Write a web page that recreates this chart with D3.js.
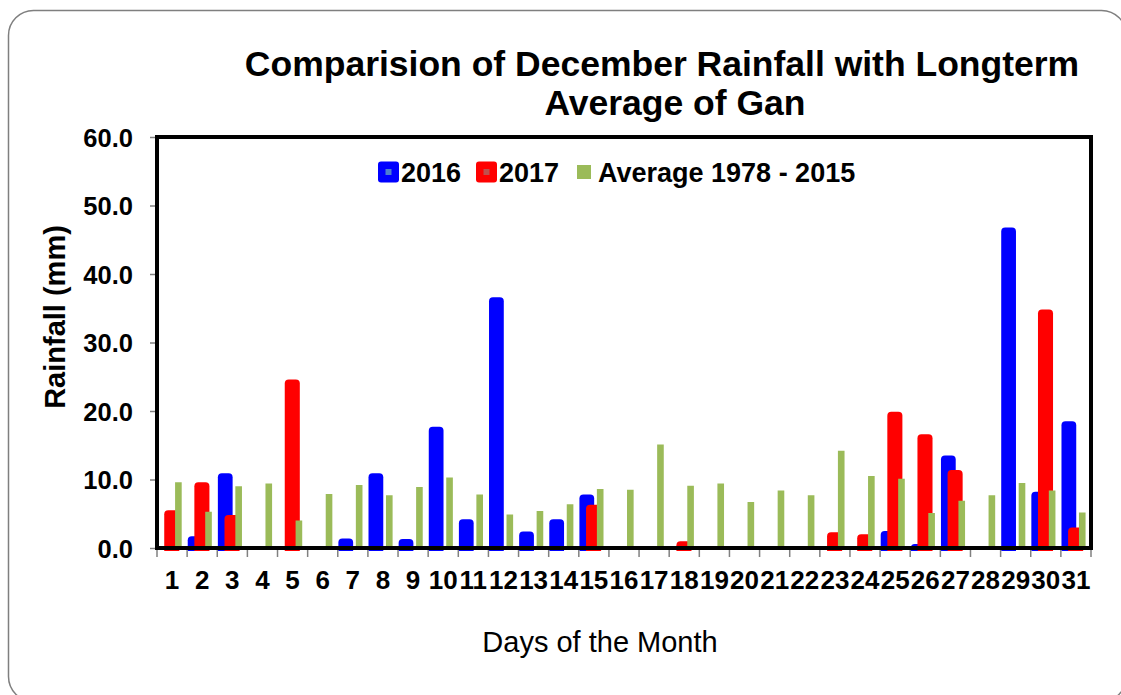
<!DOCTYPE html>
<html lang="en">
<head>
<meta charset="utf-8">
<title>December Rainfall Gan</title>
<script src="https://d3js.org/d3.v7.min.js"></script>
<style type="text/css">
body { margin: 0; background: #fff; }
svg  { display: block; font-family: "Liberation Sans", Arial, sans-serif; }
</style>
</head>
<body>
<script type="text/javascript">

// days of the month (categories)
var days = ["1","2","3","4","5","6","7","8","9","10","11","12","13","14","15","16",
            "17","18","19","20","21","22","23","24","25","26","27","28","29","30","31"];

// daily rainfall (mm)
var rain2016 = [0, 1.7, 10.9, 0, 0, 0, 1.4, 10.9, 1.3, 17.7, 4.2, 36.6, 2.4, 4.2, 7.8, 0,
                0, 0, 0, 0, 0, 0, 0, 0, 2.5, 0.6, 13.5, 0, 46.8, 8.2, 18.5];
var rain2017 = [5.5, 9.6, 4.8, 0, 24.6, 0, 0, 0, 0, 0, 0, 0, 0, 0, 6.3, 0,
                0, 1.0, 0, 0, 0, 0, 2.3, 2.0, 19.9, 16.6, 11.4, 0, 0, 34.8, 3.0];
var rainAvg  = [9.6, 5.3, 9.0, 9.4, 4.0, 7.9, 9.2, 7.7, 8.9, 10.3, 7.8, 4.9, 5.4, 6.4, 8.6, 8.5,
                15.1, 9.1, 9.4, 6.7, 8.4, 7.7, 14.2, 10.5, 10.1, 5.1, 6.9, 7.7, 9.5, 8.4, 5.2];

var yTicks = [0, 10, 20, 30, 40, 50, 60];
var seriesNames = ["2016", "2017", "Average 1978 - 2015"];

var W = 1121, H = 695;
var plotL = 157, plotR = 1091, plotT = 137, plotB = 548;

var svg = d3.select("body").append("svg")
    .attr("width", W)
    .attr("height", H);

// outer chart border
svg.append("rect")
    .attr("x", 8.5).attr("y", 10.5)
    .attr("width", 1118).attr("height", 691)
    .attr("rx", 25)
    .attr("fill", "none")
    .attr("stroke", "#7f7f7f")
    .attr("stroke-width", 1.5);

var x = d3.scaleBand().domain(days).range([plotL, plotR]).padding(0);
var y = d3.scaleLinear().domain([0, 60]).range([plotB, plotT]);
var sub = d3.scaleLinear().domain([0, 1]).range([0, x.bandwidth()]);

// where each series sits inside a day (fractions of the band)
var series = [
  { name: seriesNames[0], values: rain2016, color: "#0000ff", off: 0.02, w: 0.49, round: true },
  { name: seriesNames[1], values: rain2017, color: "#ff0000", off: 0.24, w: 0.50, round: true },
  { name: seriesNames[2], values: rainAvg,  color: "#9bbb59", off: 0.60, w: 0.22, round: false }
];

function barPath(x0, y0, w, yb, r) {
  var h = yb - y0;
  r = Math.min(r, w / 2, h);
  return "M" + x0 + "," + yb +
         "V" + (y0 + r) +
         "Q" + x0 + "," + y0 + " " + (x0 + r) + "," + y0 +
         "H" + (x0 + w - r) +
         "Q" + (x0 + w) + "," + y0 + " " + (x0 + w) + "," + (y0 + r) +
         "V" + yb + "Z";
}

series.forEach(function(s) {
  svg.append("g").selectAll("path")
    .data(s.values.map(function(v, i) { return { day: days[i], v: v }; })
                  .filter(function(d) { return d.v > 0; }))
    .enter()
    .append("path")
    .attr("fill", s.color)
    .attr("d", function(d) {
      var x0 = x(d.day) + sub(s.off);
      var yb = s.round ? y(0) + 3 : y(0);
      return barPath(x0, y(d.v), sub(s.w), yb, s.round ? 4 : 0);
    });
});

// y axis ticks and labels
svg.append("g")
    .attr("transform", "translate(" + plotL + ",0)")
    .call(d3.axisLeft(y).tickValues(yTicks).tickSize(7).tickFormat(d3.format(".1f")))
    .call(function(g) {
      g.select(".domain").remove();
      g.selectAll(".tick line").attr("stroke", "#808080").attr("stroke-width", 1.5);
      g.selectAll(".tick text")
        .attr("x", -24)
        .attr("dy", "0.36em")
        .attr("fill", "#000")
        .style("font-family", "'Liberation Sans', Arial, sans-serif")
        .style("font-size", "25.5px")
        .style("font-weight", "bold");
    });

// x axis ticks at day boundaries
svg.append("g").selectAll("line")
    .data(d3.range(days.length + 1))
    .enter()
    .append("line")
    .attr("x1", function(i) { return plotL + i * x.step(); })
    .attr("x2", function(i) { return plotL + i * x.step(); })
    .attr("y1", plotB + 2)
    .attr("y2", plotB + 9)
    .attr("stroke", "#808080")
    .attr("stroke-width", 1.5);

svg.append("g").selectAll("text")
    .data(days)
    .enter()
    .append("text")
    .attr("x", function(d) { return x(d) + x.bandwidth() / 2; })
    .attr("y", 589)
    .attr("text-anchor", "middle")
    .style("font-size", "26px")
    .style("font-weight", "bold")
    .text(function(d) { return d; });

// plot frame
svg.append("rect")
    .attr("x", plotL).attr("y", plotT)
    .attr("width", plotR - plotL).attr("height", plotB - plotT)
    .attr("fill", "none")
    .attr("stroke", "#000")
    .attr("stroke-width", 4);

// title
svg.append("text")
    .attr("x", 662).attr("y", 76)
    .attr("text-anchor", "middle")
    .style("font-size", "35.5px").style("font-weight", "bold")
    .text("Comparision of December Rainfall with Longterm");
svg.append("text")
    .attr("x", 675).attr("y", 115)
    .attr("text-anchor", "middle")
    .style("font-size", "35.5px").style("font-weight", "bold")
    .text("Average of Gan");

// axis titles
svg.append("text")
    .attr("transform", "translate(65,317) rotate(-90)")
    .attr("text-anchor", "middle")
    .style("font-size", "29px").style("font-weight", "bold")
    .text("Rainfall (mm)");
svg.append("text")
    .attr("x", 600).attr("y", 652)
    .attr("text-anchor", "middle")
    .style("font-size", "29px")
    .text("Days of the Month");

// legend
var legend = [
  { name: seriesNames[0], x: 378, fill: "#0000ff", inner: "#4f7fcf", size: 21, textX: 401 },
  { name: seriesNames[1], x: 476, fill: "#ff0000", inner: "#c0504d", size: 21, textX: 499 },
  { name: seriesNames[2], x: 577, fill: "#9bbb59", inner: null,      size: 14, textX: 598 }
];
var lg = svg.append("g").selectAll("g").data(legend).enter().append("g");
lg.append("rect")
    .attr("x", function(d) { return d.x; })
    .attr("y", function(d) { return 172 - d.size / 2; })
    .attr("width", function(d) { return d.size; })
    .attr("height", function(d) { return d.size; })
    .attr("rx", function(d) { return d.inner ? 3 : 0; })
    .attr("fill", function(d) { return d.fill; });
lg.filter(function(d) { return d.inner; }).append("rect")
    .attr("x", function(d) { return d.x + 7.5; })
    .attr("y", 169)
    .attr("width", 6).attr("height", 6)
    .attr("fill", function(d) { return d.inner; });
lg.append("text")
    .attr("x", function(d) { return d.textX; })
    .attr("y", 182)
    .style("font-size", "27px").style("font-weight", "bold")
    .text(function(d) { return d.name; });

</script>
</body>
</html>
